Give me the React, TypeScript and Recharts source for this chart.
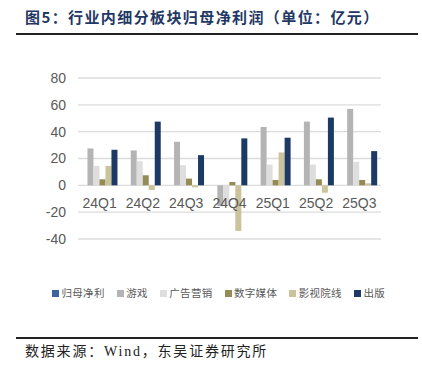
import React from 'react';
import { BarChart, Bar, XAxis, YAxis, CartesianGrid, Legend } from 'recharts';

const categories = ['24Q1', '24Q2', '24Q3', '24Q4', '25Q1', '25Q2', '25Q3'];
const netProfit: (number | null)[] = [null, null, null, null, null, null, null];
const game = [27.5, 26, 32.5, -15.5, 43.5, 47.5, 57];
const adMarketing = [14.5, 18, 15, -15, 15.5, 15.5, 17.5];
const digitalMedia = [4.5, 7.5, 5, 2.5, 4, 4.5, 4];
const filmCinema = [14.5, -3.5, -1.5, -34, 24.5, -5.5, 1.5];
const publishing = [26.5, 47.5, 22.5, 35, 35.5, 50.5, 25.5];
const yTicks = [-40, -20, 0, 20, 40, 60, 80];

const seriesNames = ['归母净利', '游戏', '广告营销', '数字媒体', '影视院线', '出版'];
const seriesKeys = ['net', 'game', 'ad', 'digital', 'film', 'pub'];
const seriesColors = ['#3d64a0', '#b4b4b4', '#dedede', '#958b55', '#cbc39b', '#1c3a63'];
const seriesValues = [netProfit, game, adMarketing, digitalMedia, filmCinema, publishing];

const data = categories.map((c, i) => {
  const row: Record<string, any> = { name: c };
  seriesKeys.forEach((k, j) => {
    row[k] = seriesValues[j][i];
  });
  return row;
});

const CategoryTick = (props: any) => {
  const { x, y, payload } = props;
  return (
    <text x={x} y={y} dy={-31} textAnchor="middle" fill="#595959" fontSize={14} fontFamily="'Liberation Sans', Arial, sans-serif">
      {payload.value}
    </text>
  );
};

const LegendContent = () => {
  return (
    <div style={{ display: 'flex', alignItems: 'center', paddingLeft: 52 }}>
      {seriesNames.map((name, i) => (
        <div key={i} style={{ display: 'flex', alignItems: 'center', marginRight: 12 }}>
          <span style={{ width: 7, height: 7, background: seriesColors[i], display: 'inline-block', marginRight: 2.5 }} />
          <span style={{ fontSize: 10.5, letterSpacing: 0.3, color: '#595959', fontFamily: "'Noto Sans CJK SC', sans-serif", lineHeight: '14px' }}>
            {name}
          </span>
        </div>
      ))}
    </div>
  );
};

export default function App() {
  return (
    <div style={{ position: 'absolute', left: 0, top: 0, width: 422, height: 370, background: '#fff', overflow: 'hidden' }}>
      <div
        style={{
          position: 'absolute',
          left: 25,
          top: 7,
          fontSize: 15,
          fontWeight: 700,
          color: '#1f3864',
          fontFamily: "'Noto Sans CJK SC', sans-serif",
          letterSpacing: 1.4,
          lineHeight: '20px',
          whiteSpace: 'nowrap',
        }}
      >
        图5：行业内细分板块归母净利润（单位：亿元）
      </div>
      <div style={{ position: 'absolute', left: 16, top: 33, width: 402, height: 2, background: '#222' }} />
      <div style={{ position: 'absolute', left: 0, top: 0 }}>
        <BarChart
          width={422}
          height={370}
          data={data}
          margin={{ top: 78, right: 41, bottom: 101, left: 0 }}
          barCategoryGap="8%"
          barGap={0}
        >
          <CartesianGrid vertical={false} stroke="#dcdcdc" strokeWidth={1.3} />
          <XAxis
            dataKey="name"
            axisLine={false}
            tickLine={false}
            tickSize={0}
            tickMargin={0}
            interval={0}
            tick={<CategoryTick />}
          />
          <YAxis
            width={78}
            domain={[-40, 80]}
            ticks={yTicks}
            axisLine={false}
            tickLine={false}
            tickSize={0}
            tickMargin={12}
            tick={{ fill: '#595959', fontSize: 14, fontFamily: "'Liberation Sans', Arial, sans-serif" }}
          />
          <Legend
            layout="horizontal"
            verticalAlign="middle"
            align="center"
            wrapperStyle={{ top: 286, left: 0, width: 422 }}
            content={<LegendContent />}
          />
          {seriesKeys.map((k, j) => (
            <Bar key={k} dataKey={k} name={seriesNames[j]} fill={seriesColors[j]} isAnimationActive={false} />
          ))}
        </BarChart>
      </div>
      <div style={{ position: 'absolute', left: 16, top: 337, width: 402, height: 2, background: '#222' }} />
      <div
        style={{
          position: 'absolute',
          left: 25,
          top: 343,
          fontSize: 14,
          color: '#222',
          fontFamily: "'Liberation Serif', 'Noto Sans CJK SC', serif",
          lineHeight: '18px',
          whiteSpace: 'nowrap',
          letterSpacing: 1.8,
        }}
      >
        数据来源：Wind，东吴证券研究所
      </div>
    </div>
  );
}
